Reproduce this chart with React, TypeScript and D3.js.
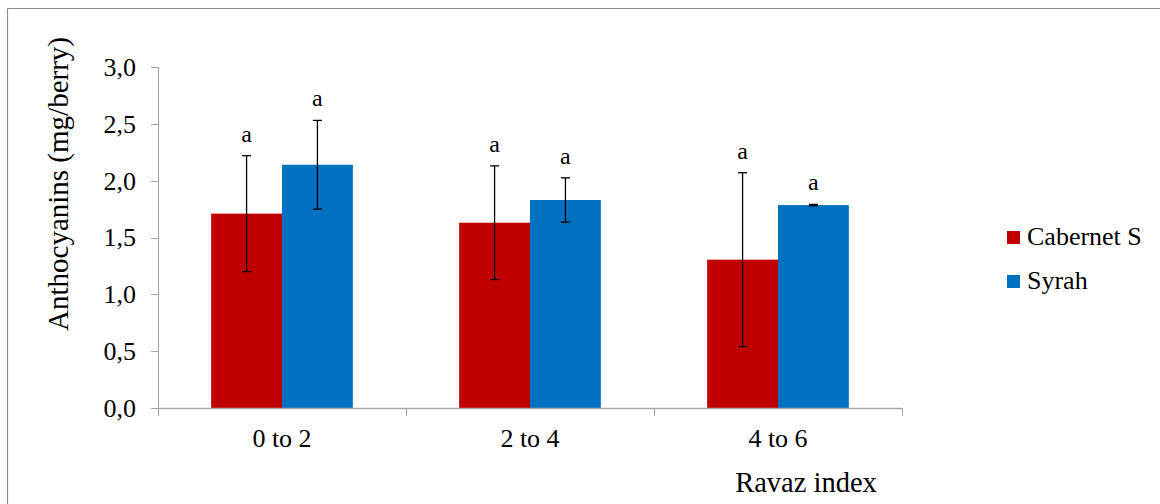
import React from "react";
import * as d3 from "d3";

const categories = ["0 to 2", "2 to 4", "4 to 6"];
const seriesNames = ["Cabernet S", "Syrah"];
const cabernetValues = [1.71, 1.63, 1.305];
const syrahValues = [2.14, 1.83, 1.785];
const cabernetErrors = [0.51, 0.5, 0.765];
const syrahErrors = [0.39, 0.195, 0.006];
const cabernetLetters = ["a", "a", "a"];
const syrahLetters = ["a", "a", "a"];
const yTicks = [0, 0.5, 1.0, 1.5, 2.0, 2.5, 3.0];
const colors = ["#C00000", "#0070C0"];

const W = 1160;
const H = 504;
const FONT = "'Liberation Serif', 'Times New Roman', serif";

const txt = (size: number): React.CSSProperties => ({ fontFamily: FONT, fontSize: `${size}px` });

export default function App() {
  const x0 = 158;
  const x1 = 902;
  const yTop = 67;
  const yBot = 408;

  const y = d3.scaleLinear().domain([0, 3]).range([yBot, yTop]);
  const xBand = d3.scaleBand<string>().domain(categories).range([x0, x1]).paddingInner(0).paddingOuter(0);
  const bw = xBand.bandwidth();
  const barW = bw / 3.5;
  const seriesVals = [cabernetValues, syrahValues];
  const seriesErr = [cabernetErrors, syrahErrors];
  const seriesLet = [cabernetLetters, syrahLetters];
  const fmt = (v: number) => v.toFixed(1).replace(".", ",");
  const axisColor = "#A6A6A6";

  const tickXs = [x0, ...categories.map((c) => (xBand(c) as number) + bw)];

  return (
    <svg
      width={W}
      height={H}
      style={{ position: "fixed", left: 0, top: 0, background: "#fff" }}
    >
      <rect x={0} y={0} width={W} height={H} fill="#fff" />
      {/* outer border */}
      <line x1={7.5} y1={8.5} x2={W} y2={8.5} stroke="#8c8c8c" strokeWidth={1.2} />
      <line x1={7.5} y1={8.5} x2={7.5} y2={H} stroke="#8c8c8c" strokeWidth={1.2} />

      {/* bars */}
      {categories.map((c, i) => {
        const gx = (xBand(c) as number) + bw / 2;
        return (
          <g key={c}>
            {seriesVals.map((vals, s) => {
              const bx = gx - barW + s * barW;
              const v = vals[i];
              return (
                <rect key={s} x={bx} y={y(v)} width={barW} height={y(0) - y(v)} fill={colors[s]} />
              );
            })}
          </g>
        );
      })}

      {/* axes */}
      <line x1={x0 + 0.5} y1={yTop} x2={x0 + 0.5} y2={yBot} stroke={axisColor} strokeWidth={1} />
      {yTicks.map((t) => (
        <g key={t}>
          <line x1={x0 - 7} x2={x0 + 0.5} y1={Math.round(y(t)) + 0.5} y2={Math.round(y(t)) + 0.5} stroke={axisColor} />
          <text x={136} y={y(t)} dy="0.34em" textAnchor="end" style={txt(26)} fill="#000">
            {fmt(t)}
          </text>
        </g>
      ))}
      <line x1={x0} y1={yBot + 0.5} x2={x1} y2={yBot + 0.5} stroke={axisColor} strokeWidth={1.5} />
      {tickXs.map((tx, i) => (
        <line key={i} x1={tx + 0.5} x2={tx + 0.5} y1={yBot} y2={yBot + 8} stroke={axisColor} />
      ))}

      {/* error bars and letters */}
      {categories.map((c, i) => {
        const gx = (xBand(c) as number) + bw / 2;
        return (
          <g key={c}>
            {seriesVals.map((vals, s) => {
              const cx = gx - barW / 2 + s * barW;
              const v = vals[i];
              const e = seriesErr[s][i];
              const hi = y(v + e);
              const lo = y(v - e);
              return (
                <g key={s}>
                  <line x1={cx} x2={cx} y1={hi} y2={lo} stroke="#000" strokeWidth={1.3} />
                  <line x1={cx - 4.5} x2={cx + 4.5} y1={hi} y2={hi} stroke="#000" strokeWidth={1.3} />
                  <line x1={cx - 4.5} x2={cx + 4.5} y1={lo} y2={lo} stroke="#000" strokeWidth={1.3} />
                  <text x={cx} y={hi - 14} textAnchor="middle" style={txt(24)} fill="#000">
                    {seriesLet[s][i]}
                  </text>
                </g>
              );
            })}
            <text x={gx} y={447} textAnchor="middle" style={txt(26)} fill="#000">
              {c}
            </text>
          </g>
        );
      })}

      {/* axis titles */}
      <text x={806} y={492} textAnchor="middle" style={txt(28.5)} fill="#000">
        Ravaz index
      </text>
      <text
        transform={`translate(68,${184}) rotate(-90)`}
        textAnchor="middle"
        style={txt(29)}
        fill="#000"
      >
        Anthocyanins (mg/berry)
      </text>

      {/* legend */}
      {seriesNames.map((n, s) => (
        <g key={n}>
          <rect x={1007} y={231 + s * 44} width={13} height={13} fill={colors[s]} />
          <text x={1027} y={245 + s * 44} style={txt(26)} fill="#000">
            {n}
          </text>
        </g>
      ))}
    </svg>
  );
}
